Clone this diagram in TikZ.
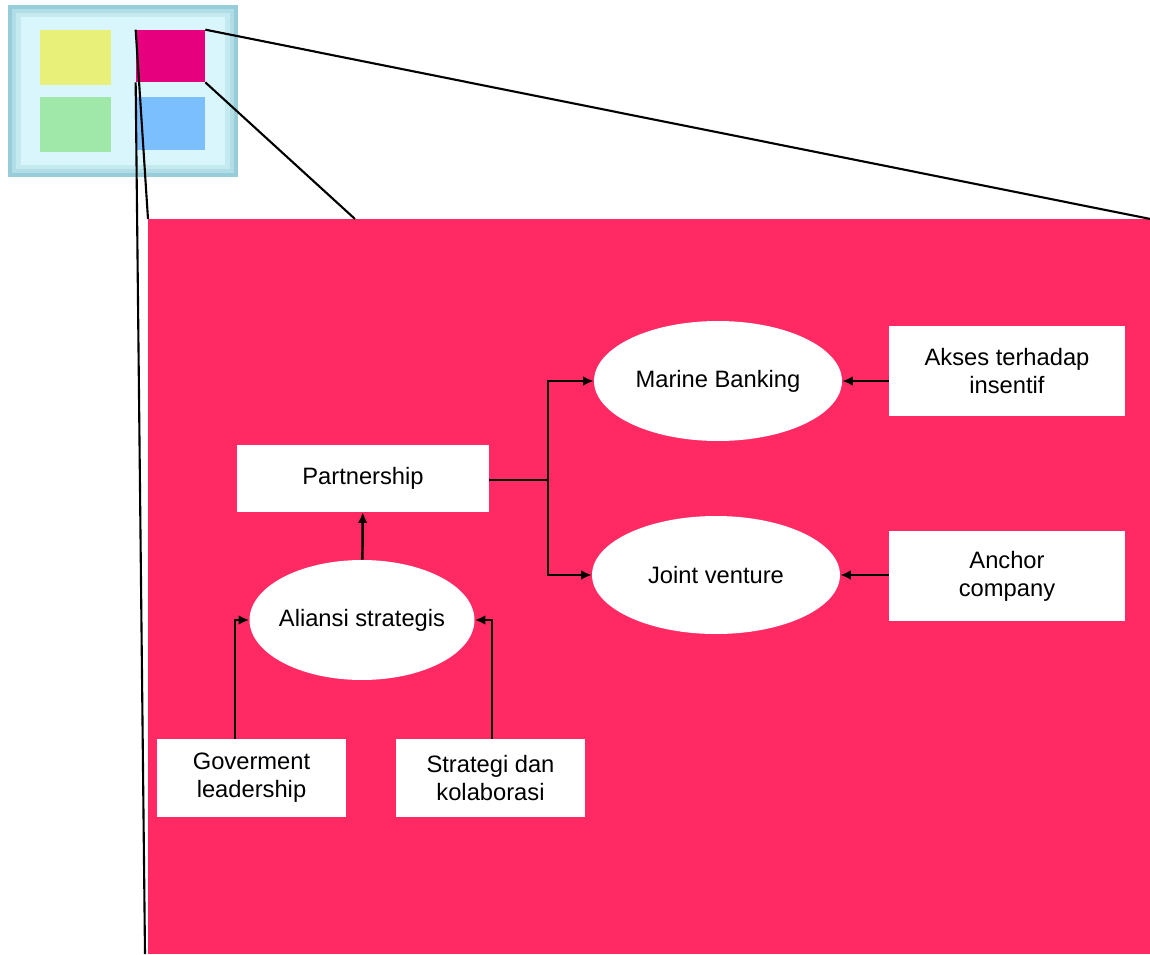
\documentclass[tikz,border=0pt]{standalone}
\usepackage{fontspec}
\setmainfont{Liberation Sans}
\usetikzlibrary{positioning,shapes.geometric,arrows.meta}
\definecolor{panelred}{RGB}{255,42,100}
\definecolor{iconedge}{RGB}{150,205,216}
\definecolor{iconface}{RGB}{216,246,251}
\definecolor{tileyellow}{RGB}{232,240,122}
\definecolor{tilepink}{RGB}{230,0,126}
\definecolor{tilegreen}{RGB}{160,232,170}
\definecolor{tileblue}{RGB}{123,191,255}
\begin{document}
\begin{tikzpicture}[x=0.02cm, y=-0.02cm, font=\fontsize{13.5}{16}\selectfont,
          >={Latex[length=6pt,width=5.5pt]},
          tile/.style={inner sep=0pt, minimum width=1.42cm, minimum height=1.1cm},
          box/.style={fill=white, align=center, inner sep=0pt},
          oval/.style={ellipse, fill=white, inner sep=0pt, minimum width=4.96cm, minimum height=2.4cm},
          link/.style={->, line width=1.4pt},
          zoomline/.style={line width=1.2pt}]
        \useasboundingbox (0,0) rectangle (1150,954);
        % icon
        \fill[iconedge] (8,5) rectangle (238,177);
        \fill[iconedge!60!iconface] (12,9) rectangle (234,173);
        \fill[iconedge!30!iconface] (16,13) rectangle (230,169);
        \fill[iconface] (21,17) rectangle (225,165);
        \node[tile, fill=tileyellow] (ysq) at (75.5,57.5) {};
        \node[tile, fill=tilepink, minimum width=1.38cm, minimum height=1.04cm] (pinksq) at (170.5,56) {};
        \node[tile, fill=tilegreen] (gsq) at (75.5,124.5) {};
        \node[tile, fill=tileblue, minimum width=1.38cm, minimum height=1.06cm] (bsq) at (170.5,123.5) {};
        % zoomed panel
        \node[fill=panelred, inner sep=0pt, minimum width=20.04cm, minimum height=14.7cm, anchor=north west] (panel) at (148,219) {};
        \coordinate (cut) at (355,219);
        \coordinate (leftend) at (145,954);
        \draw[zoomline] (pinksq.north east) -- (panel.north east);
        \draw[zoomline] (pinksq.south east) -- (cut);
        \draw[zoomline] (pinksq.north west) -- (panel.north west);
        \draw[zoomline] (pinksq.south west) -- (leftend);
        % diagram
        \node[box, minimum width=5.04cm, minimum height=1.34cm] (part) at (363,478.5) {Partnership};
        \node[oval, minimum width=4.5cm, inner xsep=-0.2cm] (alliance) at (362,620) {Aliansi strategis};
        \node[oval] (marine) at (718,381) {Marine Banking};
        \node[oval, minimum height=2.36cm] (joint) at (716,575) {Joint venture};
        \node[box, minimum width=4.72cm, minimum height=1.8cm] (akses) at (1007,371) {Akses terhadap\\insentif};
        \node[box, minimum width=4.72cm, minimum height=1.8cm] (anchor) at (1007,576) {Anchor\\company};
        \node[box, minimum width=3.78cm, minimum height=1.56cm] (gov) at (251.5,778) {Goverment\\leadership};
        \node[box, minimum width=3.78cm, minimum height=1.56cm] (strat) at (490.5,778) {Strategi dan\\kolaborasi};
        \coordinate (fork) at (548,480);
        \draw[line width=1.4pt] (part.east |- fork) -- (fork);
        \draw[link] (fork) |- (marine.west);
        \draw[link] (fork) |- (joint.west);
        \draw[link] (alliance) -- (part);
        \draw[link] ([xshift=-0.33cm]gov.north) |- (alliance.west);
        \draw[link] ([xshift=0.03cm]strat.north) |- (alliance.east);
        \draw[link] (akses.west |- marine.east) -- (marine.east);
        \draw[link] (anchor.west |- joint.east) -- (joint.east);
      \end{tikzpicture}
\end{document}
